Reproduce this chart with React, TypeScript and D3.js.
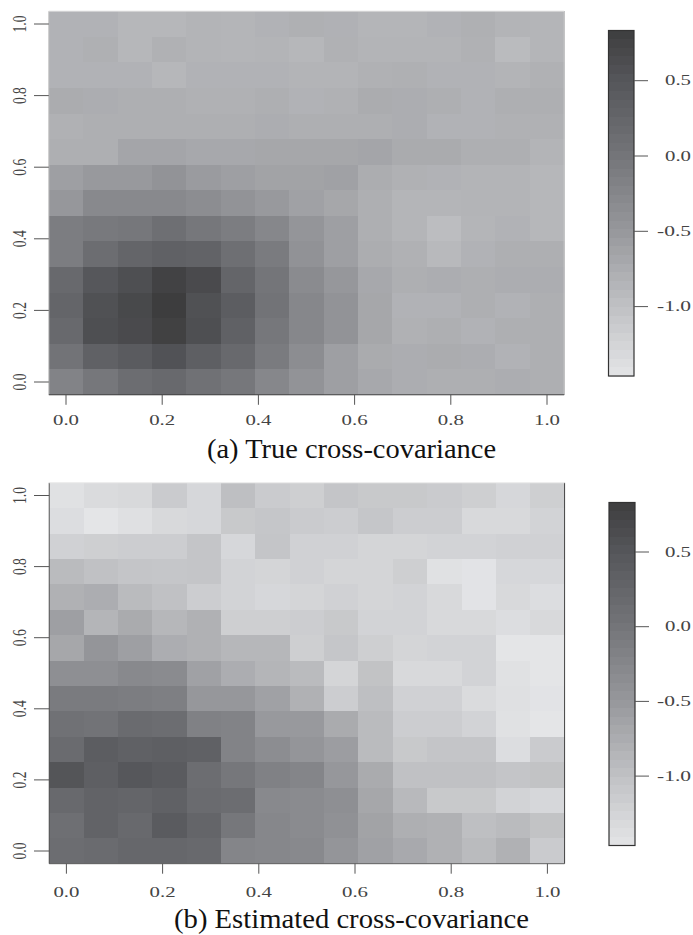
import React from "react";
import * as d3 from "d3";

// rows run from y = 1.0 (top) down to y = 0.0, columns from x = 0.0 to x = 1.0
const trueCov: number[][] = [
  [-.82,-.82,-.88,-.88,-.84,-.85,-.82,-.79,-.81,-.85,-.85,-.82,-.79,-.84,-.85],
  [-.82,-.79,-.88,-.80,-.84,-.85,-.84,-.88,-.80,-.84,-.84,-.84,-.80,-.93,-.85],
  [-.82,-.82,-.82,-.88,-.82,-.82,-.82,-.84,-.84,-.80,-.79,-.82,-.82,-.84,-.80],
  [-.74,-.76,-.78,-.78,-.80,-.80,-.78,-.82,-.80,-.74,-.76,-.78,-.82,-.78,-.78],
  [-.80,-.78,-.78,-.78,-.78,-.78,-.76,-.78,-.78,-.78,-.76,-.82,-.82,-.80,-.80],
  [-.78,-.78,-.66,-.66,-.70,-.70,-.68,-.68,-.68,-.66,-.73,-.73,-.78,-.78,-.84],
  [-.59,-.51,-.51,-.43,-.54,-.59,-.63,-.63,-.61,-.75,-.80,-.82,-.84,-.84,-.88],
  [-.49,-.29,-.29,-.29,-.34,-.43,-.51,-.61,-.68,-.78,-.85,-.85,-.84,-.84,-.88],
  [-.11,-.06,-.03,.10,-.03,-.11,-.26,-.46,-.59,-.78,-.85,-.95,-.85,-.82,-.88],
  [-.11,.13,.26,.32,.29,.10,-.09,-.42,-.59,-.75,-.80,-.90,-.82,-.78,-.78],
  [.19,.48,.60,.77,.66,.26,0,-.31,-.49,-.70,-.78,-.76,-.78,-.76,-.76],
  [.26,.57,.68,.85,.57,.39,.03,-.26,-.43,-.68,-.82,-.82,-.78,-.82,-.78],
  [.19,.60,.66,.79,.60,.32,-.03,-.26,-.43,-.68,-.80,-.78,-.82,-.78,-.78],
  [.03,.32,.42,.55,.35,.19,-.09,-.34,-.59,-.73,-.76,-.74,-.76,-.82,-.78],
  [-.20,-.03,.13,.19,.06,-.03,-.26,-.43,-.59,-.70,-.76,-.78,-.78,-.76,-.78],
];

const estCov: number[][] = [
  [-1.42,-1.34,-1.31,-1.13,-1.29,-.98,-1.13,-1.18,-1.05,-1.10,-1.10,-1.13,-1.18,-1.29,-1.18],
  [-1.37,-1.47,-1.40,-1.31,-1.29,-1.10,-1.07,-1.13,-1.16,-1.07,-1.16,-1.16,-1.31,-1.31,-1.24],
  [-1.21,-1.18,-1.16,-1.16,-1.05,-1.29,-1.05,-1.21,-1.21,-1.26,-1.26,-1.24,-1.24,-1.21,-1.21],
  [-.93,-1,-1.05,-1.07,-1.05,-1.24,-1.26,-1.21,-1.26,-1.26,-1.18,-1.42,-1.45,-1.29,-1.29],
  [-.80,-.76,-.93,-1,-1.16,-1.24,-1.29,-1.26,-1.21,-1.26,-1.24,-1.31,-1.45,-1.31,-1.37],
  [-.59,-.85,-.73,-.88,-.80,-1.18,-1.18,-1.16,-1.10,-1.24,-1.24,-1.31,-1.31,-1.37,-1.31],
  [-.68,-.46,-.59,-.76,-.80,-.88,-.88,-1.18,-1.07,-1.18,-1.26,-1.24,-1.24,-1.47,-1.47],
  [-.37,-.37,-.29,-.31,-.61,-.76,-.85,-.93,-1.26,-1.02,-1.31,-1.31,-1.24,-1.42,-1.47],
  [-.09,-.09,-.11,-.14,-.49,-.49,-.61,-.80,-1.16,-.98,-1.21,-1.21,-1.34,-1.40,-1.45],
  [.06,.03,.16,.13,-.17,-.20,-.51,-.51,-.73,-.93,-1.16,-1.16,-1.24,-1.42,-1.47],
  [.16,.39,.32,.35,.32,-.20,-.34,-.46,-.56,-.93,-1.10,-1.05,-1.05,-1.37,-1.13],
  [.52,.35,.48,.42,.13,-.03,-.17,-.23,-.49,-.73,-1,-1,-1,-1.05,-1.02],
  [.19,.29,.26,.32,.16,.13,-.29,-.31,-.37,-.68,-.90,-1.10,-1.10,-1.24,-1.29],
  [.10,.29,.19,.42,.26,-.03,-.26,-.31,-.40,-.63,-.78,-.80,-.98,-.93,-1.02],
  [.13,.16,.22,.22,.19,-.23,-.26,-.29,-.46,-.61,-.71,-.80,-.93,-.80,-1.13],
];

const axisTicks = [0, 0.2, 0.4, 0.6, 0.8, 1.0];
const colorTicks = [0.5, 0, -0.5, -1.0];
const colorStops = [-1.47, -1, -0.5, 0, 0.5, 0.84];
const greyStops = ["#e4e5e7", "#c0c1c4", "#97989c", "#747579", "#55565a", "#3d3d3e"];
const bandCount = 40;

const color = d3.scaleLinear<string>().domain(colorStops).range(greyStops).clamp(true);
const FONT = "'Liberation Serif', serif";

type PanelProps = {
  data: number[][];
  caption: string;
  captionX: [number, number];
  captionY: number;
  xRange: [number, number];
  yRange: [number, number];
  tickLabelY: number;
  barX: [number, number];
  barY: [number, number];
  barScale: [number, number];
  edges: { left: string; right: string; bottom: string; top: string };
};

function Panel(p: PanelProps) {
  const x = d3.scaleLinear().domain([0, 1]).range(p.xRange);
  const y = d3.scaleLinear().domain([0, 1]).range(p.yRange);
  const half = 1 / 28;
  const n = p.data.length;
  const left = x(-half);
  const right = x(1 + half);
  const top = y(1 + half);
  const bottom = y(-half);
  const bar = d3.scaleLinear().domain([0, 0.5]).range(p.barScale);
  const barV0 = bar.invert(p.barY[0]);
  const barV1 = bar.invert(p.barY[1]);
  const bandV = d3.range(bandCount).map((i) => barV0 + ((barV1 - barV0) * i) / bandCount);
  const bandH = (barV1 - barV0) / bandCount;
  return (
    <g fontFamily={FONT}>
      {p.data.map((row, r) =>
        row.map((v, c) => {
          const cx = c / (row.length - 1);
          const cy = 1 - r / (n - 1);
          return (
            <rect
              key={`${r}-${c}`}
              x={x(cx - half)}
              y={y(cy + half)}
              width={x(cx + half) - x(cx - half) + 0.5}
              height={y(cy - half) - y(cy + half) + 0.5}
              fill={color(v)}
              shapeRendering="crispEdges"
            />
          );
        })
      )}
      <line x1={left} x2={left} y1={top} y2={bottom} stroke={p.edges.left} />
      <line x1={right} x2={right} y1={top} y2={bottom} stroke={p.edges.right} />
      <line x1={left} x2={right} y1={top} y2={top} stroke={p.edges.top} />
      <line x1={left} x2={right} y1={bottom} y2={bottom} stroke={p.edges.bottom} />
      {axisTicks.map((t) => (
        <g key={t}>
          <line x1={x(t)} x2={x(t)} y1={bottom} y2={bottom + 10} stroke="#555" />
          <text
            x={x(t)}
            y={p.tickLabelY}
            fontSize={14}
            textAnchor="middle"
            textLength={26}
            lengthAdjust="spacingAndGlyphs"
            fill="#444"
          >
            {t.toFixed(1)}
          </text>
          <line x1={34} x2={left} y1={y(t)} y2={y(t)} stroke="#555" />
          <text
            transform={`translate(26,${y(t)}) rotate(-90)`}
            fontSize={19}
            textAnchor="middle"
            textLength={17}
            lengthAdjust="spacingAndGlyphs"
            fill="#444"
          >
            {t.toFixed(1)}
          </text>
        </g>
      ))}
      <text
        x={p.captionX[0]}
        y={p.captionY}
        fontSize={27}
        textLength={p.captionX[1] - p.captionX[0]}
        lengthAdjust="spacingAndGlyphs"
        fill="#111"
      >
        {p.caption}
      </text>
      {bandV.map((v, i) => (
        <rect
          key={i}
          x={p.barX[0]}
          y={bar(v)}
          width={p.barX[1] - p.barX[0]}
          height={bar(v + bandH) - bar(v) + 0.5}
          fill={color(v + bandH / 2)}
          shapeRendering="crispEdges"
        />
      ))}
      <rect
        x={p.barX[0]}
        y={p.barY[0]}
        width={p.barX[1] - p.barX[0]}
        height={p.barY[1] - p.barY[0]}
        fill="none"
        stroke="#333"
        strokeWidth={1.2}
      />
      {colorTicks.map((t) => (
        <g key={t}>
          <line x1={p.barX[1]} x2={p.barX[1] + 14} y1={bar(t)} y2={bar(t)} stroke="#555" />
          <text
            x={691}
            y={bar(t) + 4.5}
            fontSize={14}
            textAnchor="end"
            textLength={t < 0 ? 34 : 26}
            lengthAdjust="spacingAndGlyphs"
            fill="#444"
          >
            {t < 0 ? `-${Math.abs(t).toFixed(1)}` : t.toFixed(1)}
          </text>
        </g>
      ))}
    </g>
  );
}

export default function App() {
  return (
    <svg
      width={693}
      height={935}
      viewBox="0 0 693 935"
      style={{ position: "absolute", left: 0, top: 0, display: "block", background: "#fff" }}
    >
      <Panel
        data={trueCov}
        caption="(a) True cross-covariance"
        captionX={[207, 496]}
        captionY={458}
        xRange={[66, 547]}
        yRange={[382, 24]}
        tickLabelY={425}
        barX={[608.5, 634]}
        barY={[30.5, 376]}
        barScale={[156, 80.7]}
        edges={{ left: "#bbb", right: "#ccc", bottom: "#444", top: "#ddd" }}
      />
      <Panel
        data={estCov}
        caption="(b) Estimated cross-covariance"
        captionX={[174, 529]}
        captionY={928}
        xRange={[66.4, 547.4]}
        yRange={[851, 495.5]}
        tickLabelY={896.5}
        barX={[609, 635]}
        barY={[502.5, 845.5]}
        barScale={[626.7, 552]}
        edges={{ left: "#555", right: "#444", bottom: "#666", top: "#e6e6e6" }}
      />
    </svg>
  );
}
